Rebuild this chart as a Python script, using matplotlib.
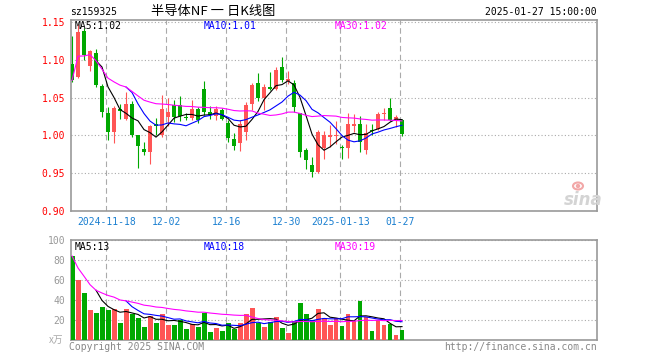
import matplotlib
matplotlib.use("Agg")
import matplotlib.pyplot as plt
from matplotlib.patches import Ellipse
import numpy as np
import pandas as pd

# 日K数据 (2024-11-08 ~ 2025-01-27, 56个交易日)
opens = [1.095, 1.078, 1.138, 1.092, 1.109, 1.066, 1.030, 1.005, 1.035, 1.022,
         1.042, 1.000, 0.9815, 0.978, 1.0155, 1.000, 1.024, 1.040, 1.040, 1.0245,
         1.0225, 1.035, 1.061, 1.031, 1.025, 1.033, 1.017, 0.995, 0.990, 1.0044,
         1.042, 1.070, 1.049, 1.0635, 1.062, 1.090, 1.072, 1.070, 1.029, 0.981,
         0.960, 0.951, 0.983, 0.998, 0.999, 0.9838, 0.983, 1.012, 1.0146, 0.980,
         1.007, 1.0088, 1.0278, 1.0366, 1.0207, 1.0198]
highs = [1.132, 1.148, 1.142, 1.113, 1.114, 1.068, 1.038, 1.039, 1.041, 1.057,
         1.045, 1.001, 0.9916, 1.0135, 1.023, 1.053, 1.050, 1.047, 1.052, 1.029,
         1.0467, 1.038, 1.072, 1.039, 1.039, 1.036, 1.020, 1.0026, 1.020, 1.0445,
         1.070, 1.083, 1.068, 1.084, 1.091, 1.104, 1.085, 1.074, 1.029, 0.983,
         0.971, 1.007, 1.006, 1.014, 1.019, 0.987, 1.029, 1.028, 1.025, 1.0154,
         1.0154, 1.031, 1.0366, 1.049, 1.0265, 1.0221]
lows = [1.071, 1.076, 1.100, 1.086, 1.064, 1.024, 0.994, 0.990, 1.022, 1.020,
        0.998, 0.956, 0.974, 0.9625, 1.001, 0.998, 1.012, 1.018, 1.019, 1.020,
        1.020, 1.017, 1.027, 1.021, 1.020, 1.020, 0.991, 0.980, 0.979, 0.9938,
        1.034, 1.045, 1.034, 1.060, 1.060, 1.071, 1.068, 1.031, 0.971, 0.955,
        0.945, 0.950, 0.969, 0.985, 0.988, 0.968, 0.9705, 1.004, 0.978, 0.975,
        1.000, 1.0066, 1.0207, 1.019, 1.011, 0.9987]
closes = [1.073, 1.137, 1.106, 1.112, 1.067, 1.031, 1.005, 1.036, 1.032, 1.042,
          1.000, 0.986, 0.978, 1.012, 1.012, 1.035, 1.031, 1.024, 1.025, 1.0235,
          1.035, 1.020, 1.031, 1.027, 1.035, 1.022, 0.997, 0.986, 1.0155, 1.040,
          1.067, 1.050, 1.064, 1.0615, 1.087, 1.074, 1.075, 1.037, 0.978, 0.967,
          0.951, 1.004, 1.001, 1.000, 1.001, 0.9828, 1.0146, 1.0145, 0.991, 1.0035,
          1.006, 1.0278, 1.030, 1.0198, 1.0243, 1.0022]
# 成交量 (万)
volumes = [84, 60, 47.3, 30, 27.3, 33.3, 30, 31, 17.3, 31,
           26, 22.5, 13.3, 24.5, 17.3, 26, 15, 15, 20, 11.3,
           16.5, 13, 27.5, 8.3, 12, 9.5, 17, 11.5, 16.7, 26,
           32, 17.5, 13, 18.5, 23, 12, 7, 19, 37, 26,
           20, 31, 22, 15, 22, 14, 26, 19, 39, 23,
           9, 20, 15, 16.5, 5.5, 10]

tick_idx = [6, 16, 26, 36, 45, 55]
tick_labels = ["2024-11-18", "12-02", "12-16", "12-30", "2025-01-13", "01-27"]

RED = "#ff5555"
GREEN = "#00a800"
MONO = "DejaVu Sans Mono"
CJK = ["Noto Sans CJK SC", "DejaVu Sans"]

W, H = 660, 360
L, R = 70.7, 597


def fx(x):
    return x / W


def fy(y):
    return 1 - y / H


df = pd.DataFrame({"open": opens, "high": highs, "low": lows,
                   "close": closes, "vol": volumes})
x = np.arange(len(df))
up = df["close"] >= df["open"]
colors = np.where(up, RED, GREEN)

ma5 = df["close"].rolling(5).mean()
ma10 = df["close"].rolling(10).mean()
ma30 = df["close"].rolling(30, min_periods=1).mean()
vma5 = df["vol"].rolling(5).mean()
vma10 = df["vol"].rolling(10).mean()
vma30 = df["vol"].rolling(30, min_periods=1).mean()

fig = plt.figure(figsize=(6.6, 3.6), dpi=100)
ax = fig.add_axes([fx(L), fy(211), (R - L) / W, (211 - 20) / H])
axv = fig.add_axes([fx(L), fy(340), (R - L) / W, 100 / H])

xmin, xmax = -0.22, 87.5
grid_x = [i - 0.28 for i in tick_idx]

# K线
ax.vlines(x, df["low"], df["high"], colors=colors, lw=0.8, zorder=3)
body_h = np.maximum((df["close"] - df["open"]).abs(), 0.0014)
ax.bar(x, body_h, bottom=np.minimum(df["open"], df["close"]), width=0.78,
       color=colors, lw=0, zorder=4)
ax.plot(x, ma5, color="black", lw=0.8, zorder=5)
ax.plot(x, ma10, color="#0000ff", lw=0.8, zorder=5)
ax.plot(x, ma30, color="#ff00ff", lw=0.8, zorder=5)
ax.set_xlim(xmin, xmax)
ax.set_ylim(0.8996, 1.153)
ax.set_yticks([0.90, 0.95, 1.00, 1.05, 1.10, 1.15])
ax.set_yticklabels(["%.2f" % v for v in [0.90, 0.95, 1.00, 1.05, 1.10, 1.15]],
                   color="red", fontsize=7, family=MONO)
ax.set_xticks(grid_x)
ax.set_xticklabels(tick_labels, color="#1a7fd0", fontsize=7, family=MONO)
ax.tick_params(length=0, pad=4)

# 成交量
axv.bar(x, df["vol"], width=0.83, color=colors, lw=0, zorder=3)
axv.plot(x, vma5, color="black", lw=0.8, zorder=5)
axv.plot(x, vma10, color="#0000ff", lw=0.8, zorder=5)
axv.plot(x, vma30, color="#ff00ff", lw=0.8, zorder=5)
axv.set_xlim(xmin, xmax)
axv.set_ylim(0, 100)
axv.set_yticks([20, 40, 60, 80, 100])
axv.set_yticklabels(["20", "40", "60", "80", "100"], color="#999999",
                    fontsize=7, family=MONO)
axv.set_xticks(grid_x)
axv.set_xticklabels([])
axv.tick_params(length=0, pad=4)

for a in (ax, axv):
    a.set_axisbelow(True)
    a.xaxis.grid(True, color="#aaaaaa", lw=0.8, linestyle=(0, (5, 3)))
    a.yaxis.grid(True, color="#aaaaaa", lw=0.8, linestyle=(0, (1, 2)))
    for s in a.spines.values():
        s.set_color("#999999")
        s.set_linewidth(1.2)

# 文字
fig.text(fx(70), fy(12), "sz159325", fontsize=7, family=MONO, va="center")
fig.text(fx(213), fy(12), "半导体NF 一 日K线图", fontsize=9.5, family=CJK,
         ha="center", va="center")
fig.text(fx(597), fy(12), "2025-01-27 15:00:00", fontsize=7, family=MONO,
         ha="right", va="center")

fig.text(fx(75), fy(26), "MA5:%.2f" % ma5.iloc[-1], fontsize=7, family=MONO,
         va="center")
fig.text(fx(204), fy(26), "MA10:%.2f" % ma10.iloc[-1], fontsize=7, family=MONO,
         va="center", color="#0000ff")
fig.text(fx(334.7), fy(26), "MA30:%.2f" % ma30.iloc[-1], fontsize=7, family=MONO,
         va="center", color="#ff00ff")
fig.text(fx(75), fy(247), "MA5:%d" % int(vma5.iloc[-1]), fontsize=7, family=MONO,
         va="center")
fig.text(fx(204), fy(247), "MA10:%d" % int(vma10.iloc[-1]), fontsize=7,
         family=MONO, va="center", color="#0000ff")
fig.text(fx(334.7), fy(247), "MA30:%d" % int(vma30.iloc[-1]), fontsize=7,
         family=MONO, va="center", color="#ff00ff")

fig.text(fx(49), fy(340), "x万", fontsize=7, family=CJK, color="#aaaaaa",
         va="center", style="italic")
fig.text(fx(69), fy(347), "Copyright 2025 SINA.COM", fontsize=7, family=MONO,
         color="#888888", va="center")
fig.text(fx(597), fy(347), "http://finance.sina.com.cn", fontsize=7,
         family=MONO, color="#888888", va="center", ha="right")

# sina 水印
fig.text(fx(583), fy(200), "sina", fontsize=12, family="DejaVu Sans",
         weight="bold", style="italic", color="#d4d4d4", ha="center",
         va="center")
fig.patches.append(Ellipse((fx(578), fy(186)), 10 / W, 7 / H,
                           transform=fig.transFigure, facecolor="none",
                           edgecolor="#f2a8a8", lw=1.5))
fig.patches.append(Ellipse((fx(578), fy(186)), 3 / W, 3 / H,
                           transform=fig.transFigure, color="#f2a8a8"))

fig.savefig("out.png", dpi=100)
plt.close(fig)
